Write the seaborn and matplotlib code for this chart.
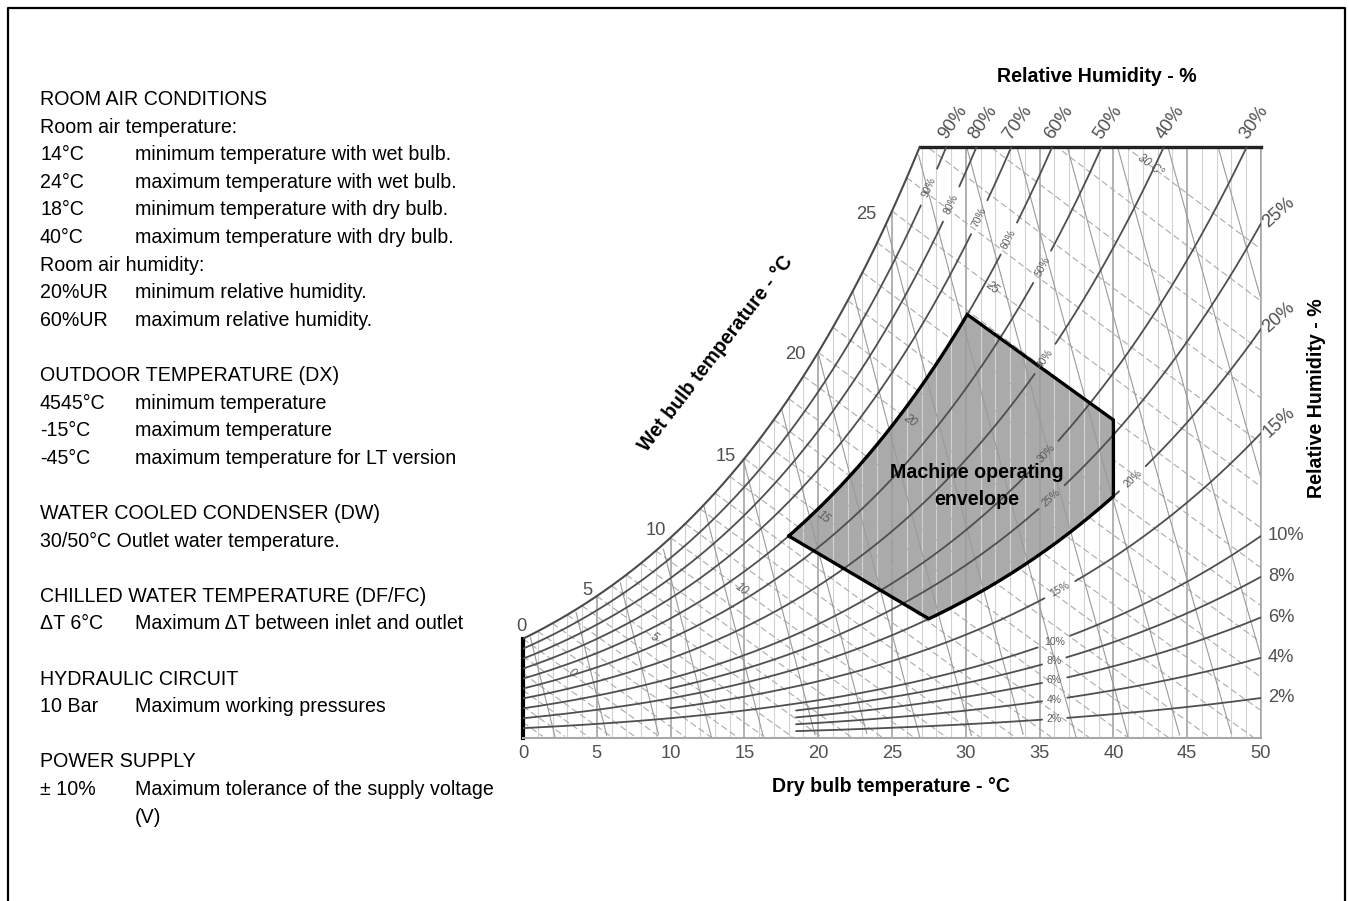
import numpy as np
import pandas as pd
import matplotlib
matplotlib.use("Agg")
import matplotlib.pyplot as plt
import seaborn as sns
from matplotlib import font_manager
from matplotlib.lines import Line2D

# ---------------- values ----------------
db_ticks = [0, 5, 10, 15, 20, 25, 30, 35, 40, 45, 50]
rh_levels = [2, 4, 6, 8, 10, 15, 20, 25, 30, 40, 50, 60, 70, 80, 90]
rh_start_db = [18.5, 18.5, 18.5, 18.5, 0, 10, 0, 10, 0, 0, 0, 0, 0, 0, 0]
rh_label_db = [36.0, 36.0, 36.0, 36.0, 36.0, 36.4, 41.3, 35.8, 35.5, 35.4, 35.2, 32.9, 30.9, 29.0, 27.5]
top_rh_labels = [90, 80, 70, 60, 50, 40, 30]
right_rh_tilted = [25, 20, 15]
right_rh_flat = [10, 8, 6, 4, 2]
wb_sat_labels = [0, 5, 10, 15, 20, 25]
wb_lines = [-8, -7, -6, -5, -4, -3, -2, -1, 0, 1, 2, 3, 4, 5, 6, 7, 8, 9, 10, 11, 12,
            13, 14, 15, 16, 17, 18, 19, 20, 21, 22, 23, 24, 25, 26, 27, 28, 29, 30]
wb_inline_values = [0, 5, 10, 15, 20, 25, 30]
wb_inline_db = [3.3, 8.9, 14.8, 20.4, 26.2, 31.8, 42.5]
wb_inline_text = ["0", "5", "10", "15", "20", "25", "30 C°"]
volume_lines = [0.78, 0.79, 0.80, 0.81, 0.82, 0.83, 0.84, 0.85, 0.86, 0.87,
                0.88, 0.89, 0.90, 0.91, 0.92, 0.93, 0.94]
env_db = [18.0, 27.5, 40.0, 40.0, 30.1]
env_rh = [60, 20, 20, 26.2, 60]
w_top = 22.47          # humidity ratio (g/kg) at the chart's upper edge
P_ATM = 101.325

info_rows = [
    (0, "ROOM AIR CONDITIONS", ""),
    (1, "Room air temperature:", ""),
    (2, "14°C", "minimum temperature with wet bulb."),
    (3, "24°C", "maximum temperature with wet bulb."),
    (4, "18°C", "minimum temperature with dry bulb."),
    (5, "40°C", "maximum temperature with dry bulb."),
    (6, "Room air humidity:", ""),
    (7, "20%UR", "minimum relative humidity."),
    (8, "60%UR", "maximum relative humidity."),
    (10, "OUTDOOR TEMPERATURE (DX)", ""),
    (11, "4545°C", "minimum temperature"),
    (12, "-15°C", "maximum temperature"),
    (13, "-45°C", "maximum temperature for LT version"),
    (15, "WATER COOLED CONDENSER (DW)", ""),
    (16, "30/50°C Outlet water temperature.", ""),
    (18, "CHILLED WATER TEMPERATURE (DF/FC)", ""),
    (19, "ΔT 6°C", "Maximum ΔT between inlet and outlet"),
    (21, "HYDRAULIC CIRCUIT", ""),
    (22, "10 Bar", "Maximum working pressures"),
    (24, "POWER SUPPLY", ""),
    (25, "± 10%", "Maximum tolerance of the supply voltage"),
    (26, "", "(V)"),
]

# label offsets (pixels, right/up) of the wet-bulb numbers beside the saturation curve
wb_sat_offsets = [(-2, 12), (-9, 6), (-15, 7), (-19, 2), (-23, -2), (-26, -3)]

# ---------------- psychrometric relations ----------------
def pws(t):
    t = np.asarray(t, dtype=float)
    return 0.61094 * np.exp(17.625 * t / (t + 243.04))


def w_rh(t, rh):
    pw = np.asarray(rh, dtype=float) / 100.0 * pws(t)
    return 622.0 * pw / (P_ATM - pw)


def w_sat(t):
    return w_rh(t, 100.0)


def w_wb(t, twb):
    ws = 0.622 * pws(twb) / (P_ATM - pws(twb))
    t = np.asarray(t, dtype=float)
    return 1000.0 * ((2501 - 2.326 * twb) * ws - 1.006 * (t - twb)) / (2501 + 1.86 * t - 4.186 * twb)


def w_vol(t, v):
    t = np.asarray(t, dtype=float)
    return 1000.0 * (v * P_ATM / (0.287042 * (t + 273.15)) - 1.0) / 1.607858


# ---------------- style / fonts ----------------
sns.set_theme(style="white")
names = {f.name for f in font_manager.fontManager.ttflist}
NARROW = "Liberation Sans Narrow" in names
BASE = "Liberation Sans Narrow" if NARROW else "Liberation Sans"
K = 1.0 if NARROW else 0.83
plt.rcParams["font.family"] = [BASE, "DejaVu Sans"]

W_PX, H_PX = 1349, 901
fig = plt.figure(figsize=(W_PX / 100, H_PX / 100), dpi=100)
fig.patch.set_facecolor("white")


def fxy(x, y):
    return x / W_PX, 1 - y / H_PX


ax = fig.add_axes([523 / W_PX, 1 - 738 / H_PX, (1261 - 523) / W_PX, (738 - 147) / H_PX])
ax.set_xlim(0, 50)
ax.set_ylim(0, w_top)
ax.set_facecolor("white")

# saturation temperature at the top edge
tg = np.linspace(0, 40, 8001)
t_top = float(np.interp(w_top, w_sat(tg), tg))

# ---------------- envelope fill ----------------
pT, pW = [], []
n = len(env_db)
for i in range(n):
    t1, r1 = env_db[i], env_rh[i]
    t2, r2 = env_db[(i + 1) % n], env_rh[(i + 1) % n]
    if r1 == r2:
        tt = np.linspace(t1, t2, 80)
        ww = w_rh(tt, r1)
    else:
        tt = np.array([t1, t2])
        ww = np.array([w_rh(t1, r1), w_rh(t2, r2)])
    pT.extend(tt[:-1])
    pW.extend(ww[:-1])
ax.fill(pT, pW, color="#aaaaaa", lw=0, zorder=1)

# ---------------- dry bulb verticals ----------------
for t in range(0, 51):
    top = min(float(w_sat(t)), w_top)
    major = t % 5 == 0
    ax.vlines(t, 0, top, color="#9c9c9c" if major else "#d2d2d2",
              lw=1.1 if major else 0.8, zorder=2)

# ---------------- wet bulb (dashed) ----------------
for twb in wb_lines:
    tt = np.linspace(max(twb, 0), 50, 300)
    ww = w_wb(tt, twb)
    ww = np.where(ww < 0, np.nan, ww)
    ax.plot(tt, ww, color="#ababab", lw=0.8, dashes=(6, 3), zorder=2)

# ---------------- specific volume ----------------
for v in volume_lines:
    tt = np.linspace(0, 50, 600)
    ww = w_vol(tt, v)
    ww = np.where((ww < 0) | (ww > w_sat(tt)), np.nan, ww)
    ax.plot(tt, ww, color="#9a9a9a", lw=0.8, zorder=2)

# ---------------- relative humidity curves (with label gaps) ----------------
small_fs = 9 * K
rows = []
seg = 0
label_info = []
for rh, t0, tl in zip(rh_levels, rh_start_db, rh_label_db):
    tt = np.linspace(t0, 50, 500)
    ww = w_rh(tt, rh)
    pts = ax.transData.transform(np.c_[tt, ww])
    lab = ax.transData.transform((tl, float(w_rh(tl, rh))))
    txt = f"{rh}%"
    radius = 4.6 * len(txt) + 3
    keep = np.hypot(pts[:, 0] - lab[0], pts[:, 1] - lab[1]) > radius
    keep &= ww <= w_top * 1.03
    idx = np.where(keep)[0]
    if len(idx):
        for run in np.split(idx, np.where(np.diff(idx) > 1)[0] + 1):
            if len(run) > 1:
                rows.append(pd.DataFrame({"T": tt[run], "W": ww[run], "seg": seg}))
                seg += 1
    label_info.append((rh, tl, txt))

rh_df = pd.concat(rows, ignore_index=True)
sns.lineplot(data=rh_df, x="T", y="W", units="seg", estimator=None, sort=False,
             color="#4f4f4f", linewidth=1.3, ax=ax, legend=False, zorder=4)

ts = np.linspace(0, t_top, 300)
ax.plot(ts, w_sat(ts), color="#4a4a4a", lw=1.5, zorder=4)

# envelope outline
ax.plot(list(pT) + [pT[0]], list(pW) + [pW[0]], color="black", lw=2.4, zorder=6,
        solid_joinstyle="miter")


def disp_angle(func, t, d=0.15):
    a = ax.transData.transform((t - d, float(func(t - d))))
    b = ax.transData.transform((t + d, float(func(t + d))))
    return np.degrees(np.arctan2(b[1] - a[1], b[0] - a[0]))


# inline RH labels
for rh, tl, txt in label_info:
    f = lambda t, r=rh: w_rh(t, r)
    ang = disp_angle(f, tl) if rh > 10 else 0.0
    ax.text(tl, float(f(tl)), txt, rotation=ang, rotation_mode="anchor",
            ha="center", va="center", fontsize=small_fs, color="#5a5a5a", zorder=7)

# inline wet bulb labels
for twb, tl, txt in zip(wb_inline_values, wb_inline_db, wb_inline_text):
    f = lambda t, b=twb: w_wb(t, b)
    ang = disp_angle(f, tl)
    ax.text(tl, float(f(tl)), txt, rotation=ang, rotation_mode="anchor",
            ha="center", va="center", fontsize=10 * K, color="#5a5a5a",
            style="italic", zorder=7)

# wet bulb labels along saturation curve
for twb, (ox, oy) in zip(wb_sat_labels, wb_sat_offsets):
    ax.annotate(str(twb), (twb, float(w_sat(twb))), xytext=(ox * 0.72, oy * 0.72),
                textcoords="offset points", ha="center", va="center",
                fontsize=16 * K, color="#505050", annotation_clip=False)

# RH labels along the top edge
for rh in top_rh_labels:
    t_hit = float(np.interp(w_top, w_rh(tg * 1.3, rh), tg * 1.3))
    ax.annotate(f"{rh}%", (t_hit, w_top), xytext=(7 * 0.72, 25 * 0.72),
                textcoords="offset points", ha="center", va="center", rotation=55,
                rotation_mode="anchor", fontsize=16 * K, color="#505050",
                annotation_clip=False)

# RH labels along the right edge
for rh in right_rh_tilted:
    ax.annotate(f"{rh}%", (50, float(w_rh(50, rh))), xytext=(18 * 0.72, 11 * 0.72),
                textcoords="offset points", ha="center", va="center", rotation=42,
                rotation_mode="anchor", fontsize=16 * K, color="#505050",
                annotation_clip=False)
for rh in right_rh_flat:
    ax.annotate(f"{rh}%", (50, float(w_rh(50, rh))), xytext=(7 * 0.72, 0),
                textcoords="offset points", ha="left", va="center",
                fontsize=16 * K, color="#505050", annotation_clip=False)

# ---------------- axes frame ----------------
ax.set_xticks(db_ticks)
ax.set_xticklabels([str(t) for t in db_ticks])
ax.set_yticks([])
ax.set_xlabel("")
ax.set_ylabel("")
ax.tick_params(axis="x", length=0, pad=5, labelsize=16 * K, labelcolor="#505050")
for lab in ax.get_xticklabels():
    lab.set_fontfamily([BASE, "DejaVu Sans"])
ax.spines["left"].set_bounds(0, float(w_sat(0)))
ax.spines["left"].set_color("black")
ax.spines["left"].set_linewidth(3)
ax.spines["top"].set_bounds(t_top, 50)
ax.spines["top"].set_color("#222222")
ax.spines["top"].set_linewidth(2.4)
ax.spines["right"].set_color("#a8a8a8")
ax.spines["right"].set_linewidth(1.2)
ax.spines["bottom"].set_color("#a8a8a8")
ax.spines["bottom"].set_linewidth(1.5)
ax.set_xlim(0, 50)
ax.set_ylim(0, w_top)

# ---------------- titles ----------------
bold = dict(fontweight="bold", color="black", fontsize=17 * K)
fig.text(*fxy(1097, 76), "Relative Humidity - %", ha="center", va="center", **bold)
fig.text(*fxy(891, 786), "Dry bulb temperature - °C", ha="center", va="center", **bold)
fig.text(*fxy(1316, 398), "Relative Humidity - %", ha="center", va="center",
         rotation=90, rotation_mode="anchor", **bold)
fig.text(*fxy(716, 354), "Wet bulb temperature - °C", ha="center", va="center",
         rotation=52.5, rotation_mode="anchor", **bold)
fig.text(*fxy(977, 472), "Machine operating", ha="center", va="center", **bold)
fig.text(*fxy(977, 500), "envelope", ha="center", va="center", **bold)

# ---------------- left information block ----------------
for k, c1, c2 in info_rows:
    yb = 105 + 27.6 * k
    if c1:
        fig.text(*fxy(40, yb), c1, ha="left", va="baseline", fontsize=17 * K, color="black")
    if c2:
        fig.text(*fxy(135, yb), c2, ha="left", va="baseline", fontsize=17 * K, color="black")

# ---------------- outer frame ----------------
fig.add_artist(Line2D([8 / W_PX, 8 / W_PX, 1345 / W_PX, 1345 / W_PX],
                      [0, 1 - 8 / H_PX, 1 - 8 / H_PX, 0],
                      transform=fig.transFigure, color="black", lw=1.6))

fig.savefig("out.png", dpi=100, facecolor="white")
